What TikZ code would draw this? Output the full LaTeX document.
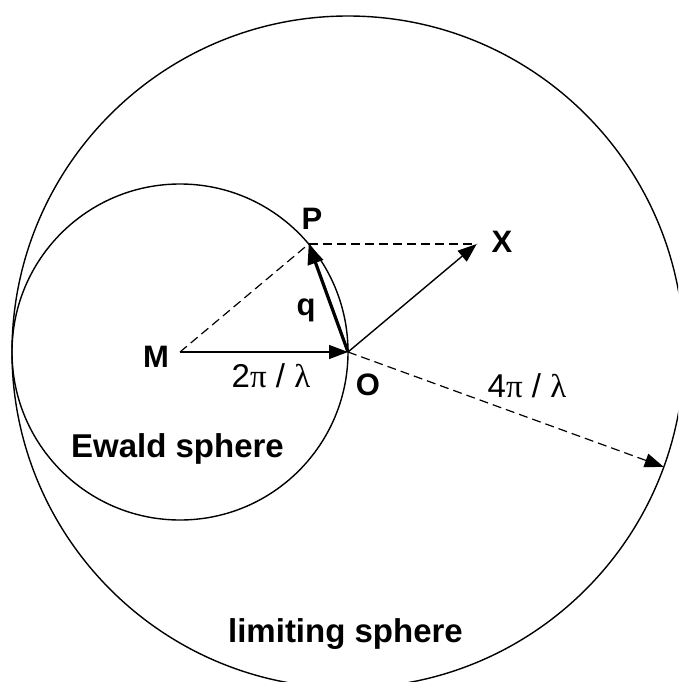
\documentclass[tikz,border=0pt]{standalone}
\usepackage{fontspec}
\setmainfont{Liberation Sans}
\newfontfamily\greekfont{Liberation Serif}
\usetikzlibrary{arrows.meta}
\tikzset{
  circ/.style={line width=1.4pt},
  vec/.style={line width=1.4pt,-{Triangle[length=19pt,width=14pt]}},
  qvec/.style={line width=3.2pt,-{Triangle[length=20pt,width=16pt]}},
  dsh/.style={line width=1.2pt,dash pattern=on 9pt off 5pt},
  lab/.style={font=\fontsize{31}{31}\selectfont\bfseries,anchor=base,inner sep=0pt},
  biglab/.style={font=\fontsize{33}{33}\selectfont\bfseries,anchor=base,inner sep=0pt},
  mlab/.style={font=\fontsize{33}{33}\selectfont,anchor=base,inner sep=0pt}
}
\begin{document}
\begin{tikzpicture}[x=1pt,y=-1pt]
\useasboundingbox (0,0) rectangle (678,682);
\clip (0,0) rectangle (678,682);
\coordinate (M) at (180,352);
\coordinate (O) at (348,352);
\coordinate (P) at (308.7,244);
\coordinate (X) at (476.7,244);
\coordinate (E) at (663.7,466.9);
% circles
\draw[circ] (O) circle[radius=336];
\draw[circ] (M) circle[radius=168];
% dashed
\draw[dsh] (M) -- (P);
\draw[dsh] (P) -- (X);
\draw[dsh,-{Triangle[length=19pt,width=14pt]}] (O) -- (E);
% vectors
\draw[vec] (M) -- (O);
\draw[vec] (O) -- (X);
\draw[qvec] (O) -- (P);
% labels
\node[lab] (lP) at (312,229) {P};
\node[lab] (lX) at (502,252) {X};
\node[lab] (lO) at (368,395) {O};
\node[lab] (lM) at (156,367) {M};
\node[lab] (lq) at (306,315) {q};
\node[mlab] (l2) at (271,387) {2{\greekfont π} / {\greekfont λ}};
\node[mlab] (l4) at (527,397) {4{\greekfont π} / {\greekfont λ}};
\node[biglab] (lE) at (177.5,457) {Ewald sphere};
\node[biglab] (lL) at (345.5,642) {limiting sphere};
\end{tikzpicture}
\end{document}
